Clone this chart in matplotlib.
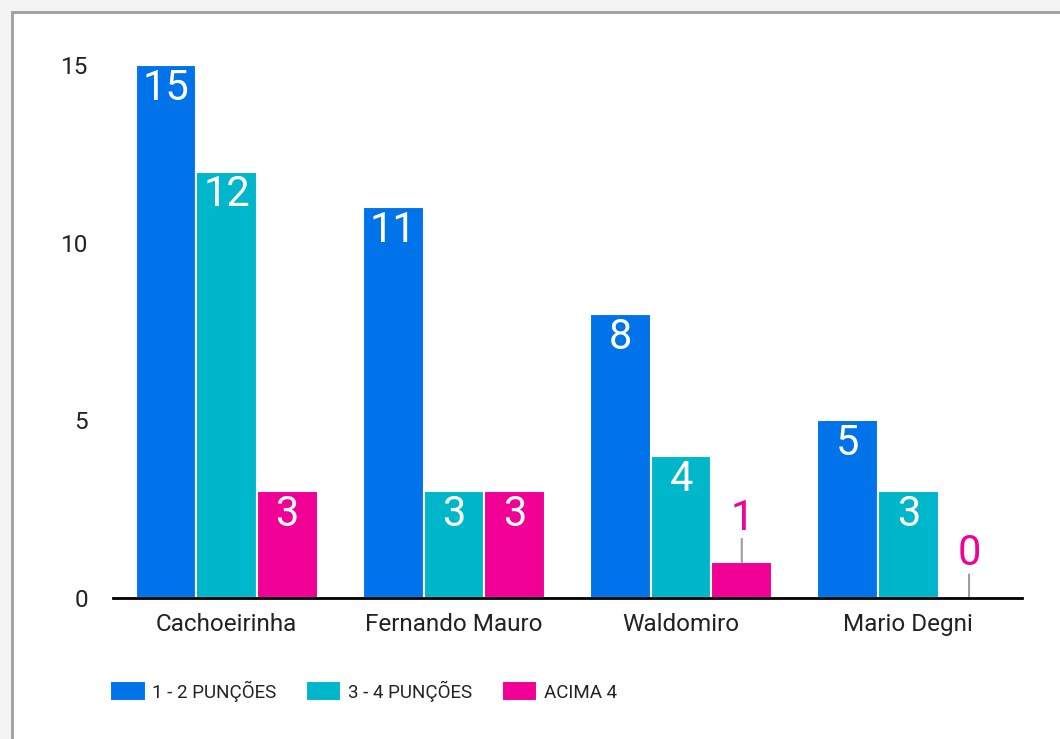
import numpy as np
import matplotlib
matplotlib.use("Agg")
import matplotlib.pyplot as plt
from matplotlib.patches import Rectangle

plt.rcParams["font.family"] = ["Roboto", "DejaVu Sans"]

categories = ["Cachoeirinha", "Fernando Mauro", "Waldomiro", "Mario Degni"]
series_names = ["1 - 2 PUNÇÕES", "3 - 4 PUNÇÕES", "ACIMA 4"]
v_12 = [15, 11, 8, 5]
v_34 = [12, 3, 4, 3]
v_acima = [3, 3, 1, 0]
colors = ["#0073EA", "#00B6CB", "#F10096"]
yticks = [0, 5, 10, 15]

fig = plt.figure(figsize=(10.6, 7.39), dpi=100)
fig.patch.set_facecolor("#f3f3f3")
# white card with grey border, running off the right/bottom edges
fig.patches.append(Rectangle((12 / 1060, -0.05), 1.1, 1 - 12 / 739 + 0.05,
                             transform=fig.transFigure, facecolor="white",
                             edgecolor="#9e9e9e", linewidth=2, zorder=-5))

ax = fig.add_axes([113 / 1060, 1 - 598 / 739, 909 / 1060, (598 - 65) / 739])
ax.set_facecolor("none")
ax.set_zorder(2)

x = np.arange(len(categories))
w = 0.267
offsets = [-w, 0, w]
for vals, name, col, off in zip([v_12, v_34, v_acima], series_names, colors, offsets):
    bars = ax.bar(x + off, vals, width=w, color=col, edgecolor="white",
                  linewidth=1.5, label=name, zorder=2)
    for b, v in zip(bars, vals):
        cx = b.get_x() + b.get_width() / 2
        if v >= 2:
            ax.annotate(str(v), (cx, v), xytext=(0, -2), textcoords="offset points",
                        ha="center", va="top", color="white", fontsize=30, zorder=3)
        else:
            ax.annotate("", (cx, v), xytext=(0, 17), textcoords="offset points",
                        arrowprops=dict(arrowstyle="-", color="#9e9e9e", lw=1.5,
                                        shrinkA=0, shrinkB=0))
            ax.annotate(str(v), (cx, v), xytext=(0, 17), textcoords="offset points",
                        ha="center", va="bottom", color=col, fontsize=30, zorder=3)

ax.set_xlim(-0.5, 3.5)
ax.set_ylim(0, 15)
ax.set_yticks(yticks)
ax.set_xticks(x)
ax.set_xticklabels(categories)
ax.tick_params(axis="both", length=0, labelsize=17.5, colors="#222222")
ax.tick_params(axis="x", pad=11)
ax.tick_params(axis="y", pad=18)
for s in ["top", "right", "left"]:
    ax.spines[s].set_visible(False)
ax.spines["bottom"].set_linewidth(2)
ax.spines["bottom"].set_color("black")
ax.spines["bottom"].set_zorder(4)

leg = fig.legend(loc="center left", bbox_to_anchor=(93 / 1060, 1 - 691 / 739),
                 ncol=3, frameon=False, fontsize=13.5, handlelength=1.9,
                 handleheight=1.28, handletextpad=0.37, columnspacing=1.55)
for t in leg.get_texts():
    t.set_color("#222222")

fig.savefig("out.png", dpi=100, facecolor=fig.get_facecolor())
